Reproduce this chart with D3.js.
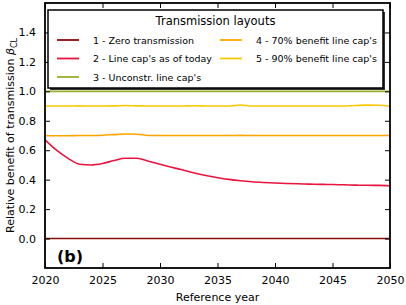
<!DOCTYPE html>
<html><head><meta charset="utf-8">
<script src="https://cdn.jsdelivr.net/npm/d3@7/dist/d3.min.js"></script>
<style>body{margin:0;background:#fff}svg{display:block}text{font-family:"DejaVu Sans",sans-serif}</style>
</head><body><div id="chart"></div>
<script>
const years = d3.range(2020, 2051);
const seriesNames = ["1 - Zero transmission","2 - Line cap's as of today","3 - Unconstr. line cap's","4 - 70% benefit line cap's","5 - 90% benefit line cap's"];
const seriesColors = ["#8b0a0a","#e8143c","#9aad2e","#ffa500","#f8c800"];
const zeroTrans = years.map(() => 0);
const todayCaps = [0.67,0.60,0.545,0.505,0.50,0.51,0.53,0.545,0.545,0.525,0.505,0.485,0.465,0.445,0.428,0.413,0.402,0.393,0.386,0.381,0.377,0.374,0.372,0.370,0.368,0.367,0.365,0.363,0.362,0.361,0.359];
const unconstr = years.map(() => 1.0);
const caps70 = [0.70,0.698,0.698,0.70,0.70,0.702,0.706,0.71,0.709,0.70,0.70,0.70,0.70,0.70,0.70,0.70,0.70,0.701,0.70,0.70,0.70,0.70,0.70,0.70,0.70,0.70,0.70,0.70,0.70,0.70,0.70];
const caps90 = [0.90,0.90,0.90,0.901,0.90,0.90,0.901,0.904,0.901,0.90,0.90,0.90,0.90,0.902,0.90,0.90,0.90,0.907,0.90,0.90,0.90,0.90,0.90,0.90,0.90,0.90,0.90,0.904,0.906,0.905,0.898];
const xTicks = [2020,2025,2030,2035,2040,2045,2050];
const yTicks = [0.0,0.2,0.4,0.6,0.8,1.0,1.2,1.4];
const allSeries = [zeroTrans,todayCaps,unconstr,caps70,caps90];

const W=406,H=305, L=45,R=390,T=3,B=268;
const svg=d3.select("#chart").append("svg").attr("width",W).attr("height",H);
const x=d3.scaleLinear().domain([2020,2050]).range([L,R]);
const y=d3.scaleLinear().domain([-0.2,1.6]).range([B,T]);

const line=d3.line().x((d,i)=>x(years[i])).y(d=>y(d)).curve(d3.curveMonotoneX);
const g=svg.append("g");
g.append("defs").append("clipPath").attr("id","clip").append("rect").attr("x",L).attr("y",T).attr("width",R-L).attr("height",B-T);
const lg=g.append("g").attr("clip-path","url(#clip)");
allSeries.forEach((s,i)=>{
  lg.append("path").attr("d",line(s)).attr("fill","none").attr("stroke",seriesColors[i]).attr("stroke-width",1.6);
});

const tl=5;
const axB=d3.axisBottom(x).tickValues(xTicks).tickFormat(d3.format("d")).tickSizeInner(-tl).tickSizeOuter(0).tickPadding(8);
const axT=d3.axisTop(x).tickValues(xTicks).tickFormat("").tickSizeInner(-tl).tickSizeOuter(0);
const axL=d3.axisLeft(y).tickValues(yTicks).tickFormat(d3.format(".1f")).tickSizeInner(-tl).tickSizeOuter(0).tickPadding(9);
const axR=d3.axisRight(y).tickValues(yTicks).tickFormat("").tickSizeInner(-tl).tickSizeOuter(0);
function style(sel){sel.select(".domain").remove();sel.selectAll("line").attr("stroke","#000").attr("stroke-width",1);sel.selectAll("text").attr("font-size",11).attr("fill","#000").attr("font-family","DejaVu Sans");}
svg.append("g").attr("transform",`translate(0,${B})`).call(axB).call(style);
svg.append("g").attr("transform",`translate(0,${T})`).call(axT).call(style);
svg.append("g").attr("transform",`translate(${L},0)`).call(axL).call(style);
svg.append("g").attr("transform",`translate(${R},0)`).call(axR).call(style);
svg.append("rect").attr("x",L).attr("y",T).attr("width",R-L).attr("height",B-T).attr("fill","none").attr("stroke","#000").attr("stroke-width",1.8);

svg.append("text").attr("x",57).attr("y",262).attr("font-size",16).attr("font-weight","bold").text("(b)");

svg.append("text").attr("x",(L+R)/2).attr("y",301).attr("text-anchor","middle").attr("font-size",11).text("Reference year");
const yl=svg.append("text").attr("transform",`translate(14,${(T+B)/2}) rotate(-90)`).attr("text-anchor","middle").attr("font-size",11);
yl.append("tspan").text("Relative benefit of transmission ");
yl.append("tspan").attr("font-style","italic").text("β");
yl.append("tspan").attr("font-size",8).attr("dy",2.5).text("CL");

const lx=48,ly=10,lw=335,lh=78;
svg.append("rect").attr("x",lx+2).attr("y",ly+2).attr("width",lw).attr("height",lh).attr("fill","#333");
svg.append("rect").attr("x",lx).attr("y",ly).attr("width",lw).attr("height",lh).attr("fill","#fff").attr("stroke","#000").attr("stroke-width",1.5);
svg.append("text").attr("x",lx+lw/2).attr("y",25).attr("text-anchor","middle").attr("font-size",11.5).text("Transmission layouts");
const pos=[[57,40],[57,58.5],[57,77],[220,40],[220,58.5]];
seriesNames.forEach((n,i)=>{
  const [px,py]=pos[i];
  svg.append("line").attr("x1",px).attr("x2",px+22).attr("y1",py).attr("y2",py).attr("stroke",seriesColors[i]).attr("stroke-width",1.8);
  svg.append("text").attr("x",px+36).attr("y",py+3.5).attr("font-size",9.5).text(n);
});
</script></body></html>
